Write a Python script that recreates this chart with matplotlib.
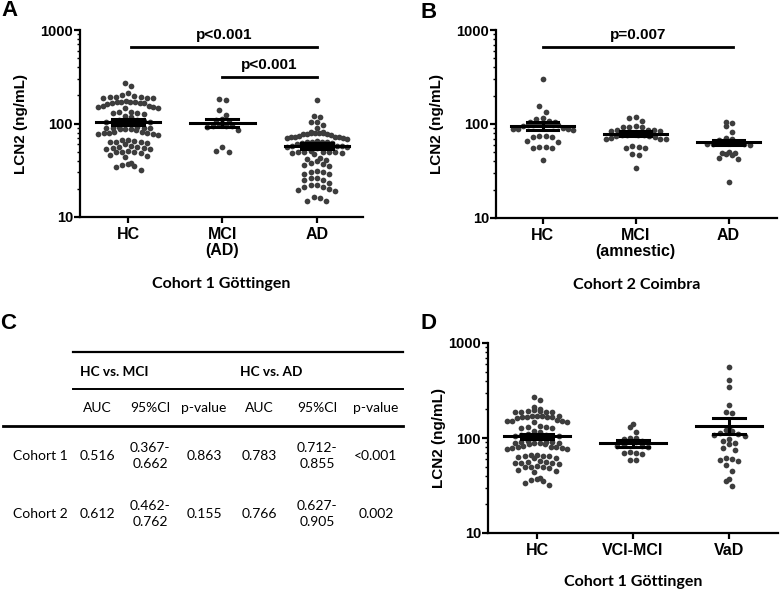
import numpy as np
import matplotlib
matplotlib.use("Agg")
from matplotlib import pyplot as plt
from matplotlib.ticker import FixedLocator, NullFormatter

# ---- data (ng/mL) ----
hc_goe = [273, 251, 214, 202,
          192, 190, 189, 188, 191, 186, 195,
          172, 170, 169, 168, 167, 166, 165, 163, 171,
          155, 152, 151, 150, 148, 146,
          134, 132, 130, 128, 126,
          119, 117,
          110, 108, 107, 106, 105, 104, 102, 100,
          92, 91, 90, 90, 89, 89, 88, 88, 87, 86,
          82, 81, 80, 80, 79, 78, 77, 76,
          67, 66, 65, 64, 64, 63, 62, 61,
          57, 56, 56, 55, 55, 54, 53,
          51, 50, 50, 49, 48,
          46, 45, 44,
          38, 37, 36, 35, 34, 32]
mci_goe = [185, 180, 139, 123, 112, 108, 104, 96, 94, 94, 93, 92, 85, 56, 50, 51]
ad_goe = [178, 119, 117, 105, 104, 96, 89,
          82, 81, 80, 80, 79, 79, 78, 78, 77, 76,
          73, 72, 72, 71, 71, 70, 70, 69,
          65, 64, 64, 63, 63, 62, 62, 61,
          58, 57, 57, 56, 56, 55,
          51, 50, 50, 50, 49, 49, 48, 48, 47,
          43, 42, 41, 40, 38, 37, 36, 35,
          31, 30, 30, 29, 29,
          26, 26, 25, 25,
          23, 22, 22, 21, 21,
          20, 19.5, 19, 16.5, 16, 15, 15]

hc_coi = [299, 155, 135, 116, 114, 107, 106, 105,
          100, 99, 99, 98, 98, 97, 97, 96,
          90, 89, 88, 88, 87, 75, 74, 73, 72,
          66, 65, 57, 57, 56, 55, 41]
mci_coi = [120, 117, 108, 95, 94, 93, 92, 87, 86, 86, 85, 84,
           78, 77, 77, 76, 76, 75, 74, 72, 71, 70, 70, 69,
           58, 57, 56, 55, 48, 47, 34]
ad_coi = [104, 102, 95, 83, 71, 70, 69, 68, 67,
          63, 62, 61, 61, 60, 50, 49, 49, 48, 47, 43, 42, 24]

vci_mci = [140, 131, 116, 101, 99, 97, 94, 92, 90, 85, 83, 82, 80,
           71, 70, 69, 68, 59, 58]
vad = [555, 408, 347, 222, 188, 184, 125, 120, 118, 112, 110, 107, 104,
       98, 93, 88, 86, 78, 75, 62, 60, 58, 57, 52, 45, 37, 35, 31]

# mean and SEM limits as drawn
mean_a = [104, 101, 58]
sem_lo_a = [97, 91, 54]
sem_hi_a = [111, 112, 62]
mean_b = [96, 79, 64]
sem_lo_b = [87, 74, 60]
sem_hi_b = [106, 84, 68]
mean_d = [104, 88, 134]
sem_lo_d = [97, 81, 110]
sem_hi_d = [111, 96, 161]

labels_a = ["HC", "MCI\n(AD)", "AD"]
labels_b = ["HC", "MCI\n(amnestic)", "AD"]
labels_d = ["HC", "VCI-MCI", "VaD"]

# table for panel C
tbl_groups = ["HC vs. MCI", "HC vs. AD"]
tbl_cols = ["AUC", "95%CI", "p-value", "AUC", "95%CI", "p-value"]
tbl_rows = ["Cohort 1", "Cohort 2"]
tbl_vals = [["0.516", "0.367-\n0.662", "0.863", "0.783", "0.712-\n0.855", "<0.001"],
            ["0.612", "0.462-\n0.762", "0.155", "0.766", "0.627-\n0.905", "0.002"]]

W, H = 780, 590
fig = plt.figure(figsize=(7.8, 5.9), dpi=100)

ARIAL = "Liberation Sans"
CALIBRI = "Lato"
DOT = "#3d3d3d"
DOT_PX = 6.2
MAX_W = 60.0


def px_axes(l, r, t, b):
    return fig.add_axes([l / W, 1 - b / H, (r - l) / W, (b - t) / H])


def swarm(ax, xc, vals):
    # GraphPad-like rows: bin by screen height, spread each row sideways
    vals = np.sort(np.asarray(vals, dtype=float))
    pts = ax.transData.transform(np.column_stack([np.full(len(vals), xc), vals]))
    x0 = pts[0, 0]
    ys = pts[:, 1]
    bins = []
    start = None
    for i, y in enumerate(ys):
        if start is None or y - start >= DOT_PX:
            bins.append([])
            start = y
        bins[-1].append(i)
    xs = np.zeros(len(vals))
    for b in bins:
        n = len(b)
        sp = DOT_PX if n < 2 else min(DOT_PX, MAX_W / (n - 1))
        slots = sorted([(k - (n - 1) / 2) * sp for k in range(n)], key=abs)
        # highest values of the row go to the middle
        for idx, s in zip(sorted(b, key=lambda j: -vals[j]), slots):
            xs[idx] = s
    data = ax.transData.inverted().transform(np.column_stack([xs + x0, ys]))
    ax.scatter(data[:, 0], vals, s=17, color=DOT, linewidths=0, zorder=2)


def panel(ax, groups, means, lo, hi, labels, xlim, cohort, pad=14, ypad=9):
    ax.set_yscale("log")
    ax.set_ylim(10, 1000)
    ax.set_xlim(*xlim)
    for i, g in enumerate(groups):
        swarm(ax, i, g)
    for i in range(len(means)):
        ax.plot([i - 0.34, i + 0.34], [means[i]] * 2, color="black", lw=2.2, zorder=3)
        ax.plot([i, i], [lo[i], hi[i]], color="black", lw=2.2, zorder=3)
        ax.plot([i - 0.17, i + 0.17], [lo[i]] * 2, color="black", lw=2.2, zorder=3)
        ax.plot([i - 0.17, i + 0.17], [hi[i]] * 2, color="black", lw=2.2, zorder=3)
    for s in ["top", "right"]:
        ax.spines[s].set_visible(False)
    for s in ["left", "bottom"]:
        ax.spines[s].set_linewidth(1.6)
    ax.yaxis.set_major_locator(FixedLocator([10, 100, 1000]))
    ax.set_yticklabels(["10", "100", "1000"], fontfamily=ARIAL, fontweight="bold", fontsize=10.5)
    ax.yaxis.set_minor_locator(FixedLocator([k * 10 ** e for e in (1, 2) for k in range(2, 10)]))
    ax.yaxis.set_minor_formatter(NullFormatter())
    ax.tick_params(axis="y", which="major", length=4, width=1.6, pad=1)
    ax.tick_params(axis="y", which="minor", length=2.2, width=1)
    ax.set_xticks(range(len(labels)))
    ax.set_xticklabels(labels, fontfamily=ARIAL, fontweight="bold", fontsize=11.5, linespacing=1.1)
    ax.tick_params(axis="x", length=4, width=1.6, pad=3)
    ax.set_ylabel("LCN2 (ng/mL)", fontfamily=ARIAL, fontweight="bold", fontsize=11, labelpad=ypad)
    ax.set_xlabel(cohort, fontfamily=CALIBRI, fontweight="bold", fontsize=11.5, labelpad=pad)


def bracket(ax, x1, x2, y, ytxt, txt):
    ax.plot([x1, x2], [y, y], color="black", lw=2, clip_on=False, zorder=3)
    ax.text((x1 + x2) / 2, ytxt, txt, ha="center", va="center",
            fontfamily=ARIAL, fontweight="bold", fontsize=11)


# panel A
ax_a = px_axes(80, 363, 30, 217)
panel(ax_a, [hc_goe, mci_goe, ad_goe], mean_a, sem_lo_a, sem_hi_a, labels_a,
      (-0.51, 2.49), "Cohort 1 Göttingen")
bracket(ax_a, 0.03, 2.0, 658, 880, "p<0.001")
bracket(ax_a, 1.0, 2.0, 314, 425, "p<0.001")

# panel B
ax_b = px_axes(496, 777, 30, 218)
panel(ax_b, [hc_coi, mci_coi, ad_coi], mean_b, sem_lo_b, sem_hi_b, labels_b,
      (-0.5, 2.52), "Cohort 2 Coimbra")
bracket(ax_b, 0.0, 2.05, 664, 880, "p=0.007")

# panel D
ax_d = px_axes(488, 778, 343, 533)
panel(ax_d, [hc_goe, vci_mci, vad], mean_d, sem_lo_d, sem_hi_d, labels_d,
      (-0.51, 2.51), "Cohort 1 Göttingen", pad=12.5, ypad=2)

# overlay in pixel units for letters and the table
ov = fig.add_axes([0, 0, 1, 1], zorder=-1)
ov.set_xlim(0, W)
ov.set_ylim(H, 0)
ov.axis("off")

for letter, x, y in [("A", 1, 0), ("B", 420, 2), ("C", 0, 313), ("D", 420, 313)]:
    ov.text(x, y, letter, ha="left", va="top", fontfamily=ARIAL,
            fontweight="bold", fontsize=16)

# panel C table
col_x = [97, 150, 204, 259, 317, 376]
ov.plot([73, 403], [352, 352], color="black", lw=1.6)
ov.plot([73, 403], [389, 389], color="black", lw=1.4)
ov.plot([3, 403], [426, 426], color="black", lw=2.0)
ov.text(80, 372, tbl_groups[0], ha="left", va="center", fontfamily=CALIBRI,
        fontweight="bold", fontsize=9.8)
ov.text(240, 372, tbl_groups[1], ha="left", va="center", fontfamily=CALIBRI,
        fontweight="bold", fontsize=9.8)
for x, c in zip(col_x, tbl_cols):
    ov.text(x, 408, c, ha="center", va="center", fontfamily=CALIBRI, fontsize=10)
for r, (name, row) in enumerate(zip(tbl_rows, tbl_vals)):
    y = 456 + r * 58
    ov.text(13, y, name, ha="left", va="center", fontfamily=CALIBRI, fontsize=10)
    for x, v in zip(col_x, row):
        ov.text(x, y, v, ha="center", va="center", fontfamily=CALIBRI,
                fontsize=10, linespacing=1.3)

fig.savefig("out.png", dpi=100)
